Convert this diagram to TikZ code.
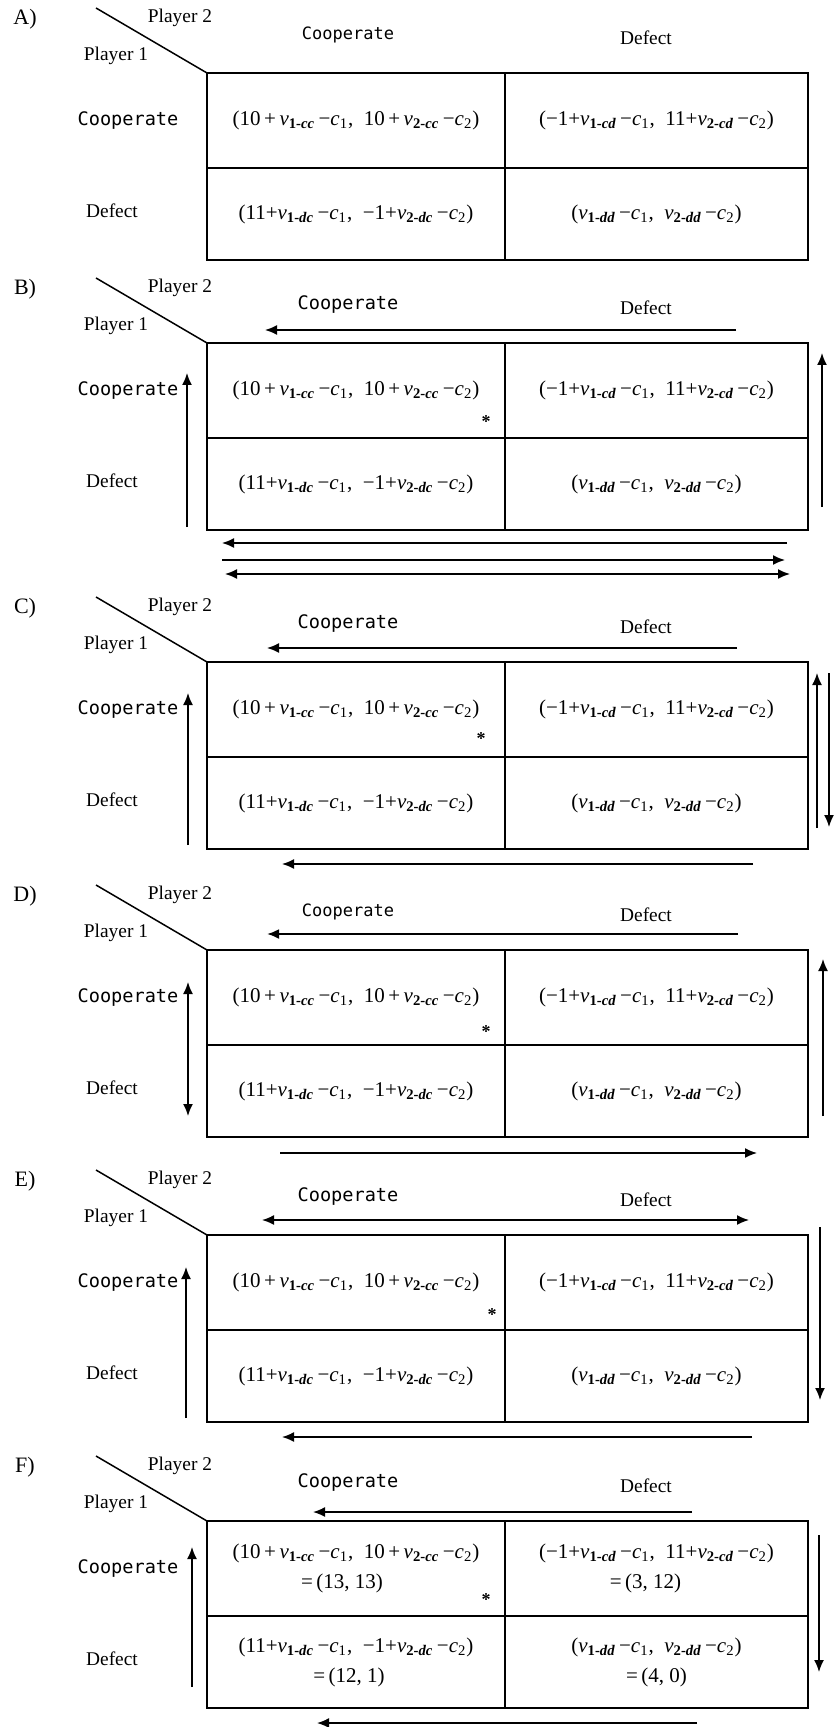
\documentclass[tikz,border=0pt]{standalone}
\usepackage{fontspec}
\setmainfont{Liberation Serif}
\newfontfamily\labelmono{DejaVu Sans Mono}
\usetikzlibrary{arrows.meta}

% payoff pieces
\newcommand{\payv}[2]{\textit{v}\textsubscript{\bfseries #1-\itshape #2}}
\newcommand{\payc}[1]{\textit{c}\textsubscript{#1}}
\newcommand{\pcc}{(10\,+\,\payv{1}{cc}\,−\payc{1},\enskip 10\,+\,\payv{2}{cc}\,−\payc{2})}
\newcommand{\pcd}{(−1+\payv{1}{cd}\,−\payc{1},\enskip 11+\payv{2}{cd}\,−\payc{2})}
\newcommand{\pdc}{(11+\payv{1}{dc}\,−\payc{1},\enskip −1+\payv{2}{dc}\,−\payc{2})}
\newcommand{\pdd}{(\payv{1}{dd}\,−\payc{1},\enskip \payv{2}{dd}\,−\payc{2})}

% one free-standing arrow between two named coordinates
\newcommand{\flow}[4]{\coordinate (#1-s) at #3; \coordinate (#1-e) at #4; \draw[#2] (#1-s) -- (#1-e);}

% payoff table with its headings: letter, table top, column-label size, four cells
\newcommand{\gamepanel}[7]{%
\begin{scope}[shift={(0,#2)}]
 \node[tag] (#1-tag) at (25,-54) {#1)};
 \node[lbl] (#1-p2) at (180,-55) {Player 2};
 \node[lbl] (#1-p1) at (116,-17) {Player 1};
 \node[mono, font=\labelmono\fontsize{#3}{11}\selectfont] (#1-colC) at (348,-38) {Cooperate};
 \node[lbl] (#1-colD) at (646,-35) {Defect};
 \node[mono] (#1-rowC) at (128,48) {Cooperate};
 \node[lbl] (#1-rowD) at (112,138) {Defect};
 \node[cellL, minimum height=47.5pt] (#1-cc) at (207,0) {#4};
 \node[cellR, minimum height=47.5pt] (#1-cd) at (505,0) {#5};
 \node[cellL, minimum height=46pt] (#1-dc) at (207,95) {#6};
 \node[cellR, minimum height=46pt] (#1-dd) at (505,95) {#7};
 \draw[frame] (#1-cc.north west) rectangle (#1-dd.south east);
 \coordinate (#1-slash) at (96,-65);
 \draw[rule] (#1-slash) -- (#1-cc.north west);
\end{scope}}

\begin{document}
\begin{tikzpicture}[x=0.5pt, y=-0.5pt,
  tag/.style={font=\fontsize{11}{13}\selectfont, inner sep=0},
  lbl/.style={font=\fontsize{9.7}{11}\selectfont, inner sep=0},
  mono/.style={font=\labelmono\fontsize{9.3}{11}\selectfont, inner sep=0},
  cellbase/.style={draw, line width=0.75pt, anchor=north west, inner sep=0, outer sep=0,
    align=center, font=\fontsize{10.5}{15}\selectfont},
  cellL/.style={cellbase, minimum width=149pt},
  cellR/.style={cellbase, minimum width=151.5pt},
  frame/.style={line width=1pt},
  rule/.style={line width=0.75pt},
  starmark/.style={font=\bfseries\fontsize{9}{10}\selectfont, inner sep=0},
  arr/.style={line width=0.8pt, -{Latex[length=6pt,width=5pt]}},
  darr/.style={line width=0.8pt, {Latex[length=6pt,width=5pt]}-{Latex[length=6pt,width=5pt]}},
  bar/.style={line width=0.8pt}]
\fill[white] (0,0) rectangle (839,1727);
\useasboundingbox (0,0) rectangle (839,1727);

% A) plain game
\gamepanel{A}{73}{8.5}{\pcc}{\pcd}{\pdc}{\pdd}

% B)
\gamepanel{B}{343}{9.3}{\pcc}{\pcd}{\pdc}{\pdd}
\begin{scope}[shift={(0,343)}]
 \node[starmark] (B-star) at (486,79) {*};
 \flow{B-top}{arr}{(736,-13)}{(265,-13)}
 \flow{B-left}{arr}{(187,184)}{(187,30)}
 \flow{B-right}{arr}{(822,164)}{(822,10)}
 \flow{B-low1}{arr}{(787,200)}{(222,200)}
 \flow{B-low2}{arr}{(222,217)}{(785,217)}
 \flow{B-low3}{darr}{(225,231)}{(790,231)}
\end{scope}

% C)
\gamepanel{C}{662}{9.3}{\pcc}{\pcd}{\pdc}{\pdd}
\begin{scope}[shift={(0,662)}]
 \node[starmark] (C-star) at (481,77) {*};
 \flow{C-top}{arr}{(737,-14)}{(267,-14)}
 \flow{C-left}{arr}{(188,183)}{(188,31)}
 \flow{C-rightup}{arr}{(817,166)}{(817,11)}
 \flow{C-rightdn}{arr}{(829,11)}{(829,165)}
 \flow{C-low}{arr}{(753,202)}{(282,202)}
\end{scope}

% D)
\gamepanel{D}{950}{8.5}{\pcc}{\pcd}{\pdc}{\pdd}
\begin{scope}[shift={(0,950)}]
 \node[starmark] (D-star) at (486,82) {*};
 \flow{D-top}{arr, line width=1.1pt}{(738,-16)}{(267,-16)}
 \flow{D-left}{darr}{(188,32)}{(188,166)}
 \flow{D-right}{arr}{(823,166)}{(823,9)}
 \flow{D-low}{arr}{(280,203)}{(757,203)}
\end{scope}

% E)
\gamepanel{E}{1235}{9.3}{\pcc}{\pcd}{\pdc}{\pdd}
\begin{scope}[shift={(0,1235)}]
 \node[starmark] (E-star) at (492,80) {*};
 \flow{E-top}{darr}{(262,-15)}{(749,-15)}
 \flow{E-left}{arr}{(186,183)}{(186,32)}
 \flow{E-right}{arr}{(820,-8)}{(820,165)}
 \flow{E-low}{arr}{(752,202)}{(282,202)}
\end{scope}

% F) with numbers
\gamepanel{F}{1521}{9.3}%
 {\pcc\\=\,(13, 13)\hspace*{14pt}}%
 {\pcd\\=\,(3, 12)\hspace*{11pt}}%
 {\pdc\\=\,(12, 1)\hspace*{7pt}}%
 {\pdd\\=\,(4, 0)}
\begin{scope}[shift={(0,1521)}]
 \node[starmark] (F-star) at (486,79) {*};
 \flow{F-top}{arr}{(692,-9)}{(313,-9)}
 \flow{F-left}{arr}{(192,166)}{(192,26)}
 \flow{F-right}{arr}{(819,14)}{(819,151)}
 \flow{F-low}{arr}{(697,202)}{(317,202)}
\end{scope}
\end{tikzpicture}
\end{document}
